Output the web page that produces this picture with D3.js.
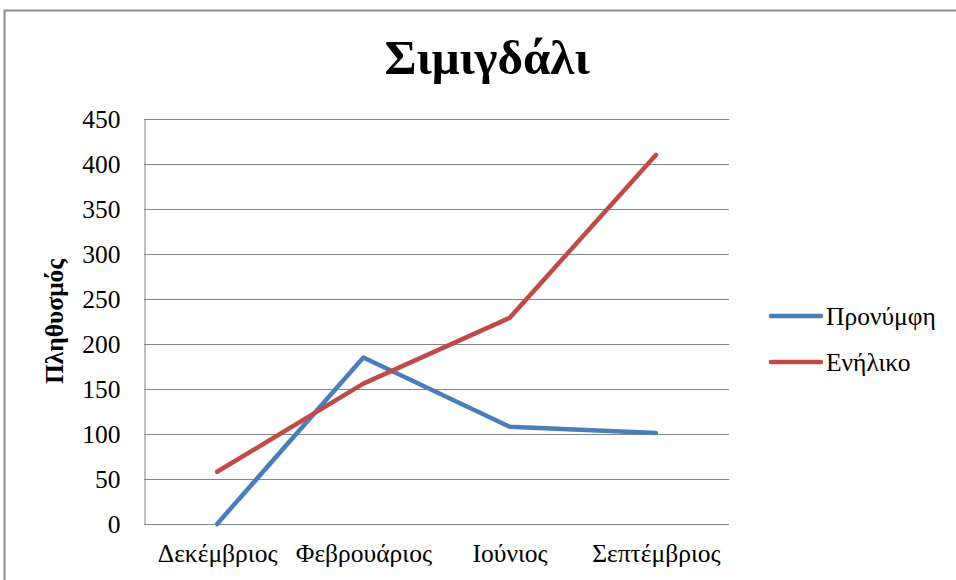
<!DOCTYPE html>
<html>
<head>
<meta charset="utf-8">
<script src="https://cdn.jsdelivr.net/npm/d3@7"></script>
<style>
  html, body { margin: 0; padding: 0; background: #fff; }
  svg { display: block; }
  text { font-family: "Liberation Serif", "Times New Roman", serif; fill: #000; }
</style>
</head>
<body>
<svg id="chart" width="956" height="580"></svg>
<script>
// Population data per sampling month
const months = ["Δεκέμβριος", "Φεβρουάριος", "Ιούνιος", "Σεπτέμβριος"];
const larva = [0, 185, 108, 101];
const adult = [58, 156, 229, 410];
const yTicks = [0, 50, 100, 150, 200, 250, 300, 350, 400, 450];
const seriesNames = ["Προνύμφη", "Ενήλικο"];
const seriesColors = ["#4a7ebb", "#be4b48"];

const svg = d3.select("#chart");
const W = 956, H = 580;
const plot = { left: 144, right: 729, top: 119, bottom: 524 };
const FS = "25.5px";

// Outer chart frame
svg.append("rect")
  .attr("x", 4.5).attr("y", 10.5)
  .attr("width", W + 10).attr("height", H + 10)
  .attr("fill", "none").attr("stroke", "#8c8c8c").attr("stroke-width", 2);

const x = d3.scalePoint().domain(months).range([plot.left, plot.right]).padding(0.5);
const y = d3.scaleLinear().domain([0, 450]).range([plot.bottom, plot.top]);

// Horizontal gridlines
svg.append("g").selectAll("line").data(yTicks).join("line")
  .attr("x1", plot.left).attr("x2", plot.right)
  .attr("y1", d => Math.round(y(d)) + 0.5).attr("y2", d => Math.round(y(d)) + 0.5)
  .attr("stroke", "#868686").attr("stroke-width", 1);

// Y axis
const yAxis = svg.append("g")
  .attr("transform", `translate(${plot.left + 0.5},0)`)
  .call(d3.axisLeft(y).tickValues(yTicks).tickSize(0).tickPadding(24));
yAxis.select(".domain").attr("stroke", "#868686");
yAxis.selectAll("text").style("font-size", FS)
  .style("font-family", "'Liberation Serif', serif").attr("dy", "0.35em");

// X axis labels
const xAxis = svg.append("g")
  .attr("transform", `translate(0,${plot.bottom})`)
  .call(d3.axisBottom(x).tickSize(0).tickPadding(0));
xAxis.select(".domain").remove();
xAxis.selectAll("text").style("font-size", FS)
  .style("font-family", "'Liberation Serif', serif")
  .attr("dy", null).attr("y", 38);

// Lines
const line = d3.line().x((d, i) => x(months[i])).y(d => y(d));
[larva, adult].forEach((vals, k) => {
  svg.append("path")
    .datum(vals)
    .attr("d", line)
    .attr("fill", "none")
    .attr("stroke", seriesColors[k])
    .attr("stroke-width", 4.5)
    .attr("stroke-linecap", "round")
    .attr("stroke-linejoin", "round");
});

// Title
svg.append("text")
  .attr("x", 487).attr("y", 74)
  .attr("text-anchor", "middle")
  .style("font-size", "49px").style("font-weight", "bold")
  .text("Σιμιγδάλι");

// Y axis title
svg.append("text")
  .attr("transform", `translate(63,${(plot.top + plot.bottom) / 2}) rotate(-90)`)
  .attr("text-anchor", "middle")
  .style("font-size", FS).style("font-weight", "bold")
  .text("Πληθυσμός");

// Legend
const legend = svg.append("g");
seriesNames.forEach((name, k) => {
  const ly = 316 + k * 46;
  legend.append("line")
    .attr("x1", 771).attr("x2", 821)
    .attr("y1", ly).attr("y2", ly)
    .attr("stroke", seriesColors[k]).attr("stroke-width", 4.5)
    .attr("stroke-linecap", "round");
  legend.append("text")
    .attr("x", 826).attr("y", ly)
    .attr("dy", "0.35em")
    .style("font-size", FS)
    .text(name);
});
</script>
</body>
</html>
